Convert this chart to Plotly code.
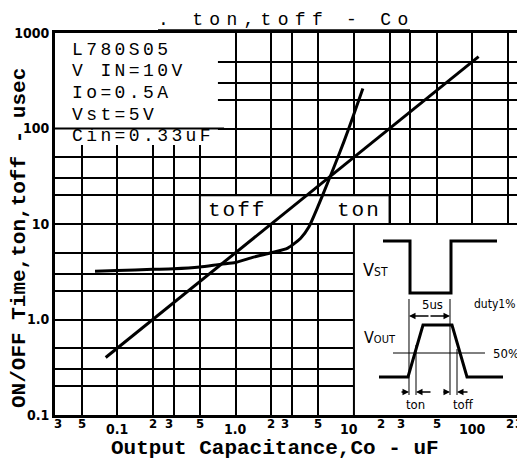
import math
import plotly.graph_objects as go

# ---------------- data ----------------
cap_toff = [0.08, 0.1, 0.2, 1.0, 10.0, 113.0]          # uF
t_off = [0.40, 0.50, 1.0, 5.0, 50.0, 565.0]             # usec

cap_ton = [0.065, 0.1, 0.2, 0.3, 0.5, 0.75, 1.0, 1.42, 2.0, 2.76, 3.55,
           4.16, 4.95, 6.0, 7.0, 8.2, 9.8, 11.9]
t_on = [3.2, 3.25, 3.35, 3.4, 3.55, 3.8, 3.95, 4.5, 5.0, 5.6, 7.1,
        9.3, 15.1, 27.0, 43.5, 72.0, 132.0, 263.0]

x_grid = [0.03, 0.05, 0.1, 0.2, 0.3, 0.5, 1, 2, 3, 5, 10, 20, 30, 50, 100, 200, 300]
x_tick_text = ["3", "5", "0.1", "2", "3", "5", "1.0", "2", "3", "5",
               "10", "2", "3", "5", "100", "2", "3"]
y_grid = [0.1, 0.2, 0.3, 0.5, 1, 2, 3, 5, 10, 20, 30, 50, 100, 200, 300, 500, 1000]
y_tick_text = ["0.1", "", "", "", "1.0", "", "", "", "10", "", "", "",
               "100", "", "", "", "1000"]

conditions = ["L780S05", "V IN=10V", "Io=0.5A", "Vst=5V", "Cin=0.33uF"]

title_text = ". ton,toff - Co"
x_title = "Output Capacitance,Co - uF"
y_title = "ON/OFF Time,ton,toff - usec"

# ---------------- layout geometry ----------------
OFF = 8                      # default page (body) margin of the browser
W, H = 525 - OFF, 461 - OFF
ML, MR, MT, MB = 55 - OFF, 0, 33 - OFF, 46
PW, PH = W - ML - MR, H - MT - MB
XR = [-1.525, 2.445]
YR = [-1.0, 3.0]

def px(x):      # page pixel -> paper
    return (x - OFF - ML) / PW

def py(y):
    return (MT + OFF + PH - y) / PH

def spaced(t, ls):
    return f"<span style='letter-spacing:{ls}px'>{t}</span>"

MONO = "Liberation Mono, Courier New, DejaVu Sans Mono, monospace"
NARROW = "Liberation Sans Narrow, DejaVu Sans Condensed, Arial Narrow, sans-serif"

fig = go.Figure()
fig.add_trace(go.Scatter(x=cap_toff, y=t_off, mode="lines",
                         line=dict(color="black", width=3), name="toff",
                         showlegend=False, hoverinfo="skip"))
fig.add_trace(go.Scatter(x=cap_ton, y=t_on, mode="lines",
                         line=dict(color="black", width=3, shape="spline", smoothing=0.6),
                         name="ton", showlegend=False, hoverinfo="skip"))

shapes = []
shapes.append(dict(type="rect", xref="x", yref="y", x0=0.02, x1=0.71, y0=67, y1=2000,
                   fillcolor="white", line=dict(width=0), layer="between"))
shapes.append(dict(type="line", xref="x", yref="y", x0=0.02, x1=0.8, y0=100, y1=100,
                   line=dict(color="black", width=2), layer="between"))
shapes.append(dict(type="rect", xref="x", yref="y", x0=0.5, x1=20, y0=10, y1=20,
                   fillcolor="white", line=dict(color="black", width=2), layer="between"))
shapes.append(dict(type="rect", xref="x", yref="y", x0=10, x1=2000, y0=0.05, y1=10,
                   fillcolor="white", line=dict(color="black", width=2), layer="between"))

def poly(points, width):
    d = "M " + " L ".join(f"{px(a):.5f},{py(b):.5f}" for a, b in points)
    return dict(type="path", xref="paper", yref="paper", path=d,
                line=dict(color="black", width=width), layer="above")

shapes.append(poly([(383, 241), (410, 241), (410, 293), (451, 293), (451, 241), (497, 241)], 3))
shapes.append(poly([(379, 377), (408, 377), (423, 325), (452, 325), (467, 377), (503, 377)], 3))
shapes.append(poly([(393, 353), (485, 353)], 1))
shapes.append(poly([(409, 299), (409, 395)], 1))
shapes.append(poly([(450, 299), (450, 395)], 1))
shapes.append(poly([(416, 345), (416, 395)], 1))
shapes.append(poly([(457, 349), (457, 395)], 1))
shapes.append(poly([(158, 30), (410, 30)], 1.5))

ann = []
ann.append(dict(text=spaced(title_text, 6.3), xref="paper", yref="paper", x=px(156), y=py(20),
                xanchor="left", yanchor="middle", showarrow=False,
                font=dict(family=MONO, size=18, color="black")))
ann.append(dict(text=f"<b>{x_title}</b>", xref="paper", yref="paper", x=px(275), y=py(448),
                xanchor="center", yanchor="middle", showarrow=False,
                font=dict(family=MONO, size=21, color="black")))
ann.append(dict(text=f"<b>{y_title}</b>", xref="paper", yref="paper", x=px(19), y=py(238),
                xanchor="center", yanchor="middle", showarrow=False, textangle=-90,
                font=dict(family=MONO, size=21, color="black")))
for i, c in enumerate(conditions):
    ann.append(dict(text=spaced(c, 3.4), xref="paper", yref="paper", x=px(70), y=py(50 + 21.5 * i),
                    xanchor="left", yanchor="middle", showarrow=False,
                    font=dict(family=MONO, size=18, color="black")))
ann.append(dict(text=spaced("toff", 2), xref="x", yref="y", x=math.log10(1.03), y=math.log10(13.7),
                showarrow=False, font=dict(family=MONO, size=21, color="black")))
ann.append(dict(text=spaced("ton", 2), xref="x", yref="y", x=math.log10(11.0), y=math.log10(13.7),
                showarrow=False, font=dict(family=MONO, size=21, color="black")))
xshift = {0.03: 3, 0.3: -5, 3: -7, 10: -5, 20: -9, 30: -9, 200: 2}
for v, t in zip(x_grid, x_tick_text):
    decade = t in ("0.1", "1.0", "10", "100")
    lx = (math.log10(v) - XR[0]) / (XR[1] - XR[0])
    if v == 300:
        lx = px(519)
    ann.append(dict(text=f"<b>{t}</b>", xref="paper", yref="paper", x=lx, y=0,
                    xanchor="center", yanchor="middle", showarrow=False,
                    xshift=xshift.get(v, 0), yshift=-14 if decade else -8,
                    font=dict(family=NARROW, size=14 if decade else 13, color="black")))

def itext(t, x, y, size=13, fam=NARROW):
    ann.append(dict(text=t, xref="paper", yref="paper", x=px(x), y=py(y),
                    xanchor="center", yanchor="middle", showarrow=False,
                    font=dict(family=fam, size=size, color="black")))
itext("V<span style='font-size:12px'>ST</span>", 375, 269, 18)
itext("V<span style='font-size:11px'>OUT</span>", 380, 337, 16)
itext("5us", 432, 304, 13)
itext("duty1%", 494, 304, 12)
itext("50%", 506, 353, 13)
itext("ton", 415, 404, 13)
itext("toff", 463, 404, 13)

def arrow(tip_x, tail_x, y):
    ann.append(dict(text="", xref="paper", yref="paper", x=px(tip_x), y=py(y),
                    ax=tail_x - tip_x, ay=0, showarrow=True, arrowhead=2,
                    arrowsize=1, arrowwidth=1.3, arrowcolor="black"))
arrow(409, 430, 316)
arrow(450, 429, 316)
arrow(409, 400, 392)
arrow(416, 432, 392)
arrow(450, 442, 392)
arrow(457, 469, 392)

fig.update_layout(
    width=W, height=H, margin=dict(l=ML, r=MR, t=MT, b=MB),
    paper_bgcolor="white", plot_bgcolor="white",
    shapes=shapes, annotations=ann, showlegend=False,
    xaxis=dict(type="log", range=XR, tickvals=x_grid, showticklabels=False,
               showgrid=True, gridcolor="black", gridwidth=2, ticks="",
               showline=True, linecolor="black", linewidth=3, mirror=True,
               zeroline=False, fixedrange=True),
    yaxis=dict(type="log", range=YR, tickvals=y_grid,
               ticktext=[f"<b>{t}</b>" if t else "" for t in y_tick_text],
               tickfont=dict(family=NARROW, size=14, color="black"),
               showgrid=True, gridcolor="black", gridwidth=2, ticks="",
               showline=True, linecolor="black", linewidth=3, mirror=False,
               zeroline=False, fixedrange=True),
)

fig.write_html("out.html")
